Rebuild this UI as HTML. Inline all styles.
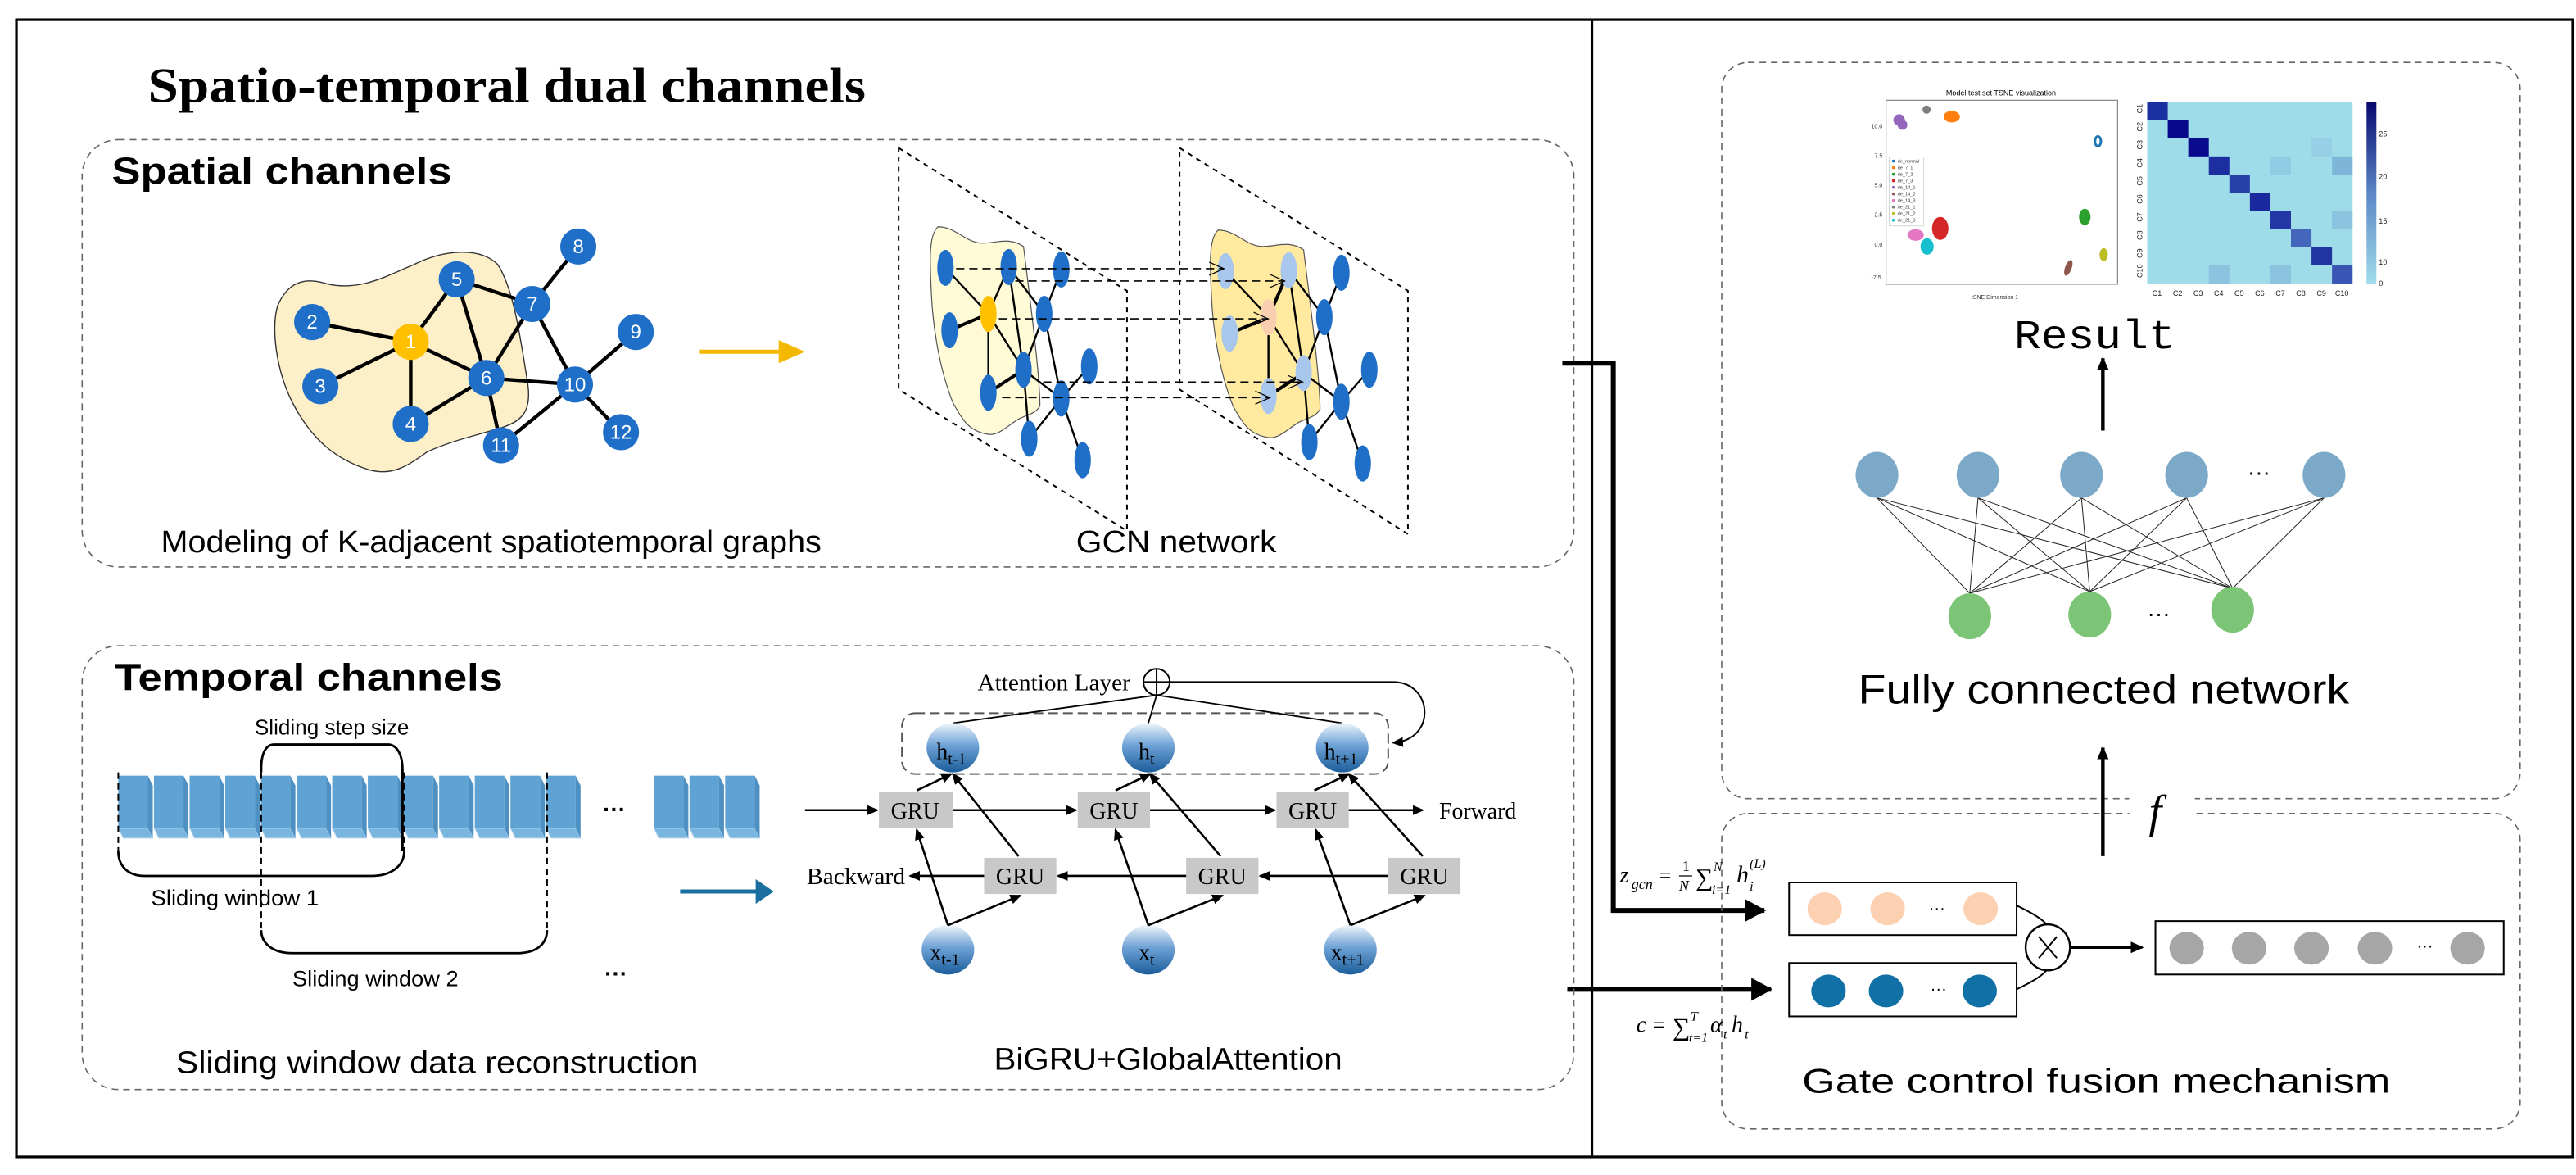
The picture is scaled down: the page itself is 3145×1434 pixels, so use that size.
<!DOCTYPE html>
<html><head><meta charset="utf-8"><style>
html,body{margin:0;padding:0;background:#fff;}
svg{display:block;}
text{font-family:"Liberation Sans",sans-serif;}
.serif{font-family:"Liberation Serif",serif;}
.mono{font-family:"Liberation Mono",monospace;}
</style></head><body>
<svg width="3145" height="1434" viewBox="0 0 1568 715" preserveAspectRatio="none" xmlns="http://www.w3.org/2000/svg">
<defs>
<linearGradient id="bg" x1="0" y1="0" x2="0" y2="1">
<stop offset="0" stop-color="#eef4fb"/><stop offset="0.45" stop-color="#6fa3d6"/><stop offset="1" stop-color="#1b5d9b"/>
</linearGradient>
<linearGradient id="cb" x1="0" y1="1" x2="0" y2="0">
<stop offset="0" stop-color="#a0dcea"/><stop offset="0.5" stop-color="#5a86c6"/><stop offset="1" stop-color="#08086e"/>
</linearGradient>
<marker id="ah" markerWidth="8" markerHeight="8" refX="7" refY="4" orient="auto" markerUnits="userSpaceOnUse"><path d="M0,0.5 L8,4 L0,7.5 Z" fill="#000"/></marker>
<marker id="ahs" markerWidth="7" markerHeight="7" refX="6" refY="3.5" orient="auto" markerUnits="userSpaceOnUse"><path d="M0,0.5 L7,3.5 L0,6.5 Z" fill="#000"/></marker>
<marker id="ahb" markerWidth="14" markerHeight="14" refX="12" refY="7" orient="auto" markerUnits="userSpaceOnUse"><path d="M0,0 L13,7 L0,14 Z" fill="#000"/></marker>
<marker id="aho" markerWidth="10" markerHeight="10" refX="9" refY="5" orient="auto" markerUnits="userSpaceOnUse"><path d="M0,1 L9,5 L0,9" fill="none" stroke="#000" stroke-width="0.6"/></marker>
</defs>
<rect width="1568" height="715" fill="#fff"/>
<rect x="10" y="12" width="1556" height="692" fill="none" stroke="#000" stroke-width="1.6"/>
<line x1="969" y1="12" x2="969" y2="704" stroke="#000" stroke-width="1.6"/>

<text x="90" y="62" class="serif" font-weight="bold" font-size="30" textLength="437" lengthAdjust="spacingAndGlyphs">Spatio-temporal dual channels</text>

<rect x="50" y="85" width="908" height="260" rx="22" fill="none" stroke="#666" stroke-width="0.8" stroke-dasharray="4,3"/>
<text x="68" y="112" font-weight="bold" font-size="23" textLength="207" lengthAdjust="spacingAndGlyphs">Spatial channels</text>

<path d="M169,186 C175,172 185,168 200,173 C220,177 235,168 252,161 C270,152 292,150 303,161 C312,175 316,200 321,232 C324,250 318,256 306,260 C290,265 275,268 260,275 C250,282 240,290 225,286 C205,280 190,268 178,245 C168,225 165,200 169,186 Z" fill="#fdefc8" stroke="#333" stroke-width="0.7"/>
<g stroke="#000" stroke-width="2.2">
<line x1="250" y1="208" x2="190" y2="196"/><line x1="250" y1="208" x2="195" y2="235"/>
<line x1="250" y1="208" x2="250" y2="258"/><line x1="250" y1="208" x2="278" y2="170"/>
<line x1="250" y1="208" x2="296" y2="230"/><line x1="278" y1="170" x2="296" y2="230"/>
<line x1="278" y1="170" x2="324" y2="185"/><line x1="324" y1="185" x2="296" y2="230"/>
<line x1="324" y1="185" x2="352" y2="150"/><line x1="324" y1="185" x2="350" y2="234"/>
<line x1="250" y1="258" x2="296" y2="230"/><line x1="296" y1="230" x2="350" y2="234"/>
<line x1="296" y1="230" x2="305" y2="271"/><line x1="350" y1="234" x2="387" y2="202"/>
<line x1="350" y1="234" x2="378" y2="263"/><line x1="350" y1="234" x2="305" y2="271"/>
</g>
<g fill="#1f6fc8">
<circle cx="190" cy="196" r="11"/><circle cx="195" cy="235" r="11"/><circle cx="250" cy="258" r="11"/>
<circle cx="278" cy="170" r="11"/><circle cx="296" cy="230" r="11"/><circle cx="324" cy="185" r="11"/>
<circle cx="352" cy="150" r="11"/><circle cx="387" cy="202" r="11"/><circle cx="350" cy="234" r="11"/>
<circle cx="305" cy="271" r="11"/><circle cx="378" cy="263" r="11"/>
</g>
<circle cx="250" cy="208" r="11" fill="#ffc000"/>
<g fill="#fff" font-size="12" text-anchor="middle">
<text x="250" y="212">1</text><text x="190" y="200">2</text><text x="195" y="239">3</text><text x="250" y="262">4</text>
<text x="278" y="174">5</text><text x="296" y="234">6</text><text x="324" y="189">7</text><text x="352" y="154">8</text>
<text x="387" y="206">9</text><text x="350" y="238">10</text><text x="305" y="275">11</text><text x="378" y="267">12</text>
</g>
<line x1="426" y1="214" x2="476" y2="214" stroke="#f5b800" stroke-width="2.5"/>
<path d="M474,207 L490,214 L474,221 Z" fill="#f5b800"/>
<text x="98" y="336" font-size="19" textLength="402" lengthAdjust="spacingAndGlyphs">Modeling of K-adjacent spatiotemporal graphs</text>

<!-- GCN planes -->
<g fill="none" stroke="#000" stroke-width="1" stroke-dasharray="3,3">
<path d="M547,90 L686,177 L686,323 L547,237 Z"/>
<path d="M718,90 L857,177 L857,325 L718,237 Z"/>
</g>
<!-- graph 1 -->
<path d="M571,138 C582,138 588,148 598,148 C607,148 614,144 623,150 C628,190 633,230 633,247 C630,252 626,252 620,255 C612,260 607,266 600,264 C590,262 586,256 580,245 C572,225 568,200 567,180 C566,160 565,143 571,138 Z" fill="#fffbd6" stroke="#555" stroke-width="0.6"/>
<g stroke="#000" stroke-width="1.2">
<line x1="575.5" y1="163" x2="601.6" y2="191"/><line x1="578" y1="201" x2="601.6" y2="191" stroke-width="2"/>
<line x1="601.6" y1="191" x2="601.6" y2="239"/><line x1="601.6" y1="191" x2="614" y2="162.5"/>
<line x1="601.6" y1="191" x2="623" y2="225"/><line x1="614" y1="162.5" x2="623" y2="225"/>
<line x1="614" y1="162.5" x2="635.6" y2="191"/><line x1="635.6" y1="191" x2="623" y2="225"/>
<line x1="635.6" y1="191" x2="646" y2="164"/><line x1="635.6" y1="191" x2="646" y2="242.5"/>
<line x1="601.6" y1="239" x2="623" y2="225" stroke-width="2"/><line x1="623" y1="225" x2="646" y2="242.5"/>
<line x1="623" y1="225" x2="626.5" y2="267"/><line x1="646" y1="242.5" x2="663" y2="223"/>
<line x1="646" y1="242.5" x2="659" y2="280"/><line x1="646" y1="242.5" x2="626.5" y2="267"/>
</g>
<g fill="#1f6fc8">
<ellipse cx="575.5" cy="163" rx="5" ry="11"/><ellipse cx="578" cy="201" rx="5" ry="11"/><ellipse cx="601.6" cy="239" rx="5" ry="11"/>
<ellipse cx="614" cy="162.5" rx="5" ry="11"/><ellipse cx="623" cy="225" rx="5" ry="11"/><ellipse cx="635.6" cy="191" rx="5" ry="11"/>
<ellipse cx="646" cy="164" rx="5" ry="11"/><ellipse cx="663" cy="223" rx="5" ry="11"/><ellipse cx="646" cy="242.5" rx="5" ry="11"/>
<ellipse cx="626.5" cy="267" rx="5" ry="11"/><ellipse cx="659" cy="280" rx="5" ry="11"/>
</g>
<ellipse cx="601.6" cy="191" rx="5" ry="11" fill="#ffc000"/>
<!-- graph 2 -->
<g transform="translate(170.5,2)">
<path d="M571,138 C582,138 588,148 598,148 C607,148 614,144 623,150 C628,190 633,230 633,247 C630,252 626,252 620,255 C612,260 607,266 600,264 C590,262 586,256 580,245 C572,225 568,200 567,180 C566,160 565,143 571,138 Z" fill="#ffeaa0" stroke="#555" stroke-width="0.6"/>
<g stroke="#000" stroke-width="1.2">
<line x1="575.5" y1="163" x2="601.6" y2="191"/><line x1="578" y1="201" x2="601.6" y2="191" stroke-width="2"/>
<line x1="601.6" y1="191" x2="601.6" y2="239"/><line x1="601.6" y1="191" x2="614" y2="162.5" stroke-width="2"/>
<line x1="601.6" y1="191" x2="623" y2="225"/><line x1="614" y1="162.5" x2="623" y2="225"/>
<line x1="614" y1="162.5" x2="635.6" y2="191"/><line x1="635.6" y1="191" x2="623" y2="225"/>
<line x1="635.6" y1="191" x2="646" y2="164"/><line x1="635.6" y1="191" x2="646" y2="242.5"/>
<line x1="601.6" y1="239" x2="623" y2="225" stroke-width="2"/><line x1="623" y1="225" x2="646" y2="242.5"/>
<line x1="623" y1="225" x2="626.5" y2="267"/><line x1="646" y1="242.5" x2="663" y2="223"/>
<line x1="646" y1="242.5" x2="659" y2="280"/><line x1="646" y1="242.5" x2="626.5" y2="267"/>
</g>
<g fill="#a9c6ec">
<ellipse cx="575.5" cy="163" rx="5" ry="11"/><ellipse cx="578" cy="201" rx="5" ry="11"/><ellipse cx="601.6" cy="239" rx="5" ry="11"/>
<ellipse cx="614" cy="162.5" rx="5" ry="11"/><ellipse cx="623" cy="225" rx="5" ry="11"/>
</g>
<g fill="#1f6fc8">
<ellipse cx="635.6" cy="191" rx="5" ry="11"/><ellipse cx="646" cy="164" rx="5" ry="11"/><ellipse cx="663" cy="223" rx="5" ry="11"/>
<ellipse cx="646" cy="242.5" rx="5" ry="11"/><ellipse cx="626.5" cy="267" rx="5" ry="11"/><ellipse cx="659" cy="280" rx="5" ry="11"/>
</g>
<ellipse cx="601.6" cy="191" rx="5" ry="11" fill="#f9cfb0"/>
</g>
<g stroke="#000" stroke-width="0.8" stroke-dasharray="5,3" fill="none" marker-end="url(#aho)">
<line x1="582" y1="163.5" x2="745" y2="163.5"/><line x1="618" y1="171" x2="782" y2="171"/>
<line x1="608" y1="194" x2="772" y2="194"/><line x1="635" y1="232.5" x2="793" y2="232.5"/>
<line x1="610" y1="242" x2="773" y2="242"/>
</g>
<text x="655" y="336" font-size="19" textLength="122" lengthAdjust="spacingAndGlyphs">GCN network</text>

<polyline points="951,221 982,221 982,554 1074,554" fill="none" stroke="#000" stroke-width="3" marker-end="url(#ahb)"/>
<line x1="954" y1="602" x2="1078" y2="602" stroke="#000" stroke-width="3" marker-end="url(#ahb)"/>

<!-- Temporal box -->
<rect x="50" y="393" width="908" height="270" rx="22" fill="none" stroke="#666" stroke-width="0.8" stroke-dasharray="4,3"/>
<text x="70" y="420" font-weight="bold" font-size="23" textLength="236" lengthAdjust="spacingAndGlyphs">Temporal channels</text>
<text x="155" y="447" font-size="13" textLength="94" lengthAdjust="spacingAndGlyphs">Sliding step size</text>
<g fill="#5ea3d3">
<rect x="72" y="472" width="18" height="32"/><rect x="93.7" y="472" width="18" height="32"/><rect x="115.4" y="472" width="18" height="32"/><rect x="137.1" y="472" width="18" height="32"/><rect x="158.8" y="472" width="18" height="32"/><rect x="180.5" y="472" width="18" height="32"/><rect x="202.2" y="472" width="18" height="32"/><rect x="223.9" y="472" width="18" height="32"/><rect x="245.6" y="472" width="18" height="32"/><rect x="267.3" y="472" width="18" height="32"/><rect x="289" y="472" width="18" height="32"/><rect x="310.7" y="472" width="18" height="32"/><rect x="332.4" y="472" width="18" height="32"/>
<rect x="398" y="472" width="18" height="32"/><rect x="419.7" y="472" width="18" height="32"/><rect x="441.4" y="472" width="18" height="32"/>
</g>
<g fill="#78b6e0" stroke="#b8d6ee" stroke-width="0.5">
<path d="M72,504 h18 l3,6 h-18 Z"/><path d="M93.7,504 h18 l3,6 h-18 Z"/><path d="M115.4,504 h18 l3,6 h-18 Z"/><path d="M137.1,504 h18 l3,6 h-18 Z"/><path d="M158.8,504 h18 l3,6 h-18 Z"/><path d="M180.5,504 h18 l3,6 h-18 Z"/><path d="M202.2,504 h18 l3,6 h-18 Z"/><path d="M223.9,504 h18 l3,6 h-18 Z"/><path d="M245.6,504 h18 l3,6 h-18 Z"/><path d="M267.3,504 h18 l3,6 h-18 Z"/><path d="M289,504 h18 l3,6 h-18 Z"/><path d="M310.7,504 h18 l3,6 h-18 Z"/><path d="M332.4,504 h18 l3,6 h-18 Z"/>
<path d="M398,504 h18 l3,6 h-18 Z"/><path d="M419.7,504 h18 l3,6 h-18 Z"/><path d="M441.4,504 h18 l3,6 h-18 Z"/>
</g>
<g fill="#4f90c2">
<path d="M90,472 l3,6 v32 l-3,-6 Z"/><path d="M111.7,472 l3,6 v32 l-3,-6 Z"/><path d="M133.4,472 l3,6 v32 l-3,-6 Z"/><path d="M155.1,472 l3,6 v32 l-3,-6 Z"/><path d="M176.8,472 l3,6 v32 l-3,-6 Z"/><path d="M198.5,472 l3,6 v32 l-3,-6 Z"/><path d="M220.2,472 l3,6 v32 l-3,-6 Z"/><path d="M241.9,472 l3,6 v32 l-3,-6 Z"/><path d="M263.6,472 l3,6 v32 l-3,-6 Z"/><path d="M285.3,472 l3,6 v32 l-3,-6 Z"/><path d="M307,472 l3,6 v32 l-3,-6 Z"/><path d="M328.7,472 l3,6 v32 l-3,-6 Z"/><path d="M350.4,472 l3,6 v32 l-3,-6 Z"/>
<path d="M416,472 l3,6 v32 l-3,-6 Z"/><path d="M437.7,472 l3,6 v32 l-3,-6 Z"/><path d="M459.4,472 l3,6 v32 l-3,-6 Z"/>
</g>
<text x="374" y="497" font-size="14" text-anchor="middle" font-weight="bold">···</text>
<g fill="none" stroke="#000" stroke-width="1" stroke-dasharray="4,2.5">
<line x1="72" y1="470" x2="72" y2="518"/><line x1="159" y1="470" x2="159" y2="566"/>
<line x1="246" y1="470" x2="246" y2="518"/><line x1="333" y1="470" x2="333" y2="566"/>
</g>
<g fill="none" stroke="#000" stroke-width="1.4">
<path d="M159,470 L159,468 C159,458 162,453 167,453 L236,453 C242,453 245,460 245,468 L245,518"/>
<path d="M72,518 C72,527 78,533 88,533 L226,533 C238,533 246,527 246,518"/>
<path d="M159,566 C159,574 166,580 178,580 L315,580 C327,580 333,574 333,566"/>
</g>
<text x="92" y="551" font-size="13.5" textLength="102" lengthAdjust="spacingAndGlyphs">Sliding window 1</text>
<text x="178" y="600" font-size="13.5" textLength="101" lengthAdjust="spacingAndGlyphs">Sliding window 2</text>
<text x="375" y="597" font-size="14" text-anchor="middle" font-weight="bold">···</text>
<line x1="414" y1="542.5" x2="462" y2="542.5" stroke="#1a6fa0" stroke-width="2.5"/>
<path d="M460,535 L471,542.5 L460,550 Z" fill="#1a6fa0"/>
<text x="107" y="653" font-size="19" textLength="318" lengthAdjust="spacingAndGlyphs">Sliding window data reconstruction</text>

<!-- BiGRU -->
<text x="595" y="420" class="serif" font-size="14" textLength="93" lengthAdjust="spacingAndGlyphs">Attention Layer</text>
<circle cx="704" cy="415" r="8" fill="#fff" stroke="#000" stroke-width="1"/>
<line x1="696" y1="415" x2="712" y2="415" stroke="#000" stroke-width="1"/><line x1="704" y1="407" x2="704" y2="423" stroke="#000" stroke-width="1"/>
<rect x="549" y="434" width="296" height="37" rx="8" fill="none" stroke="#555" stroke-width="1" stroke-dasharray="6,3"/>
<g stroke="#000" stroke-width="0.9">
<line x1="704" y1="423" x2="580" y2="440"/><line x1="704" y1="423" x2="699" y2="440"/><line x1="704" y1="423" x2="817" y2="440"/>
</g>
<path d="M712,415 L848,415 C872,415 875,450 848,452" fill="none" stroke="#000" stroke-width="1" marker-end="url(#ahs)"/>
<g fill="url(#bg)">
<ellipse cx="580" cy="455" rx="16" ry="15"/><ellipse cx="699" cy="455" rx="16" ry="15"/><ellipse cx="817" cy="455" rx="16" ry="15"/>
<ellipse cx="577" cy="578" rx="16" ry="15"/><ellipse cx="699" cy="578" rx="16" ry="15"/><ellipse cx="822" cy="578" rx="16" ry="15"/>
</g>
<g font-size="14">
<text x="570" y="462" class="serif">h<tspan font-size="10" dy="3">t-1</tspan></text>
<text x="693" y="462" class="serif">h<tspan font-size="10" dy="3">t</tspan></text>
<text x="806" y="462" class="serif">h<tspan font-size="10" dy="3">t+1</tspan></text>
<text x="566" y="584" class="serif">x<tspan font-size="10" dy="3">t-1</tspan></text>
<text x="693" y="584" class="serif">x<tspan font-size="10" dy="3">t</tspan></text>
<text x="810" y="584" class="serif">x<tspan font-size="10" dy="3">t+1</tspan></text>
</g>
<g fill="#c8c8c8">
<rect x="535" y="482" width="45" height="22"/><rect x="656" y="482" width="44" height="22"/><rect x="777" y="482" width="44" height="22"/>
<rect x="599" y="522" width="44" height="22"/><rect x="722" y="522" width="44" height="22"/><rect x="845" y="522" width="44" height="22"/>
</g>
<g font-size="14" text-anchor="middle">
<text x="557" y="498" class="serif">GRU</text><text x="678" y="498" class="serif">GRU</text><text x="799" y="498" class="serif">GRU</text>
<text x="621" y="538" class="serif">GRU</text><text x="744" y="538" class="serif">GRU</text><text x="867" y="538" class="serif">GRU</text>
</g>
<g stroke="#000" stroke-width="1.3" fill="none" marker-end="url(#ahs)">
<line x1="490" y1="493" x2="534" y2="493"/><line x1="580" y1="493" x2="655" y2="493"/><line x1="700" y1="493" x2="776" y2="493"/><line x1="821" y1="493" x2="866" y2="493"/>
<line x1="845" y1="533" x2="767" y2="533"/><line x1="722" y1="533" x2="644" y2="533"/><line x1="599" y1="533" x2="554" y2="533"/>
<line x1="577" y1="563" x2="558" y2="505"/><line x1="577" y1="563" x2="621" y2="545"/>
<line x1="699" y1="563" x2="679" y2="505"/><line x1="699" y1="563" x2="744" y2="545"/>
<line x1="822" y1="563" x2="801" y2="505"/><line x1="822" y1="563" x2="867" y2="545"/>
<line x1="558" y1="481" x2="579" y2="471"/><line x1="620" y1="521" x2="580" y2="471"/>
<line x1="679" y1="481" x2="700" y2="471"/><line x1="743" y1="521" x2="700" y2="471"/>
<line x1="800" y1="481" x2="821" y2="471"/><line x1="866" y1="521" x2="821" y2="471"/>
</g>
<text x="876" y="498" class="serif" font-size="14" textLength="47" lengthAdjust="spacingAndGlyphs">Forward</text>
<text x="491" y="538" class="serif" font-size="14" textLength="60" lengthAdjust="spacingAndGlyphs">Backward</text>
<text x="605" y="651" font-size="19" textLength="212" lengthAdjust="spacingAndGlyphs">BiGRU+GlobalAttention</text>

<!-- Right upper box -->
<rect x="1048" y="38" width="486" height="448" rx="16" fill="none" stroke="#666" stroke-width="0.8" stroke-dasharray="4,3"/>
<text x="1218" y="58" font-size="4.5" text-anchor="middle">Model test set TSNE visualization</text>
<rect x="1148" y="61" width="141" height="112" fill="#fff" stroke="#888" stroke-width="0.6"/>
<g font-size="3.5" fill="#333">
<text x="1139" y="78">10.0</text><text x="1141" y="96">7.5</text><text x="1141" y="114">5.0</text><text x="1141" y="132">2.5</text><text x="1141" y="150">0.0</text><text x="1139" y="170">-7.5</text>
<text x="1200" y="182">tSNE Dimension 1</text>
</g>
<g>
<circle cx="1156" cy="73" r="3.5" fill="#9467bd"/><circle cx="1158" cy="76" r="3" fill="#9467bd"/>
<circle cx="1172.7" cy="66.7" r="2.5" fill="#7f7f7f"/>
<ellipse cx="1188" cy="71" rx="5" ry="3.5" fill="#ff7f0e"/>
<ellipse cx="1277" cy="86" rx="1.8" ry="3" fill="none" stroke="#1f77b4" stroke-width="1.5"/>
<ellipse cx="1269" cy="132" rx="3.5" ry="5" fill="#2ca02c"/>
<ellipse cx="1280.5" cy="155" rx="2.5" ry="4" fill="#bcbd22"/>
<ellipse cx="1259" cy="163" rx="2" ry="5" fill="#8c564b" transform="rotate(20 1259 163)"/>
<ellipse cx="1181" cy="139" rx="5" ry="7" fill="#d62728"/>
<ellipse cx="1166" cy="143" rx="5" ry="3.5" fill="#e377c2"/>
<ellipse cx="1173" cy="150" rx="4" ry="5" fill="#17becf"/>
</g>
<rect x="1150" y="95.5" width="21" height="42" fill="#fff" stroke="#ccc" stroke-width="0.4"/>
<g font-size="2.8" fill="#333">
<circle cx="1152.5" cy="98" r="0.9" fill="#1f77b4"/><text x="1155" y="99">de_normal</text>
<circle cx="1152.5" cy="102" r="0.9" fill="#ff7f0e"/><text x="1155" y="103">de_7_1</text>
<circle cx="1152.5" cy="106" r="0.9" fill="#2ca02c"/><text x="1155" y="107">de_7_2</text>
<circle cx="1152.5" cy="110" r="0.9" fill="#d62728"/><text x="1155" y="111">de_7_3</text>
<circle cx="1152.5" cy="114" r="0.9" fill="#9467bd"/><text x="1155" y="115">de_14_1</text>
<circle cx="1152.5" cy="118" r="0.9" fill="#8c564b"/><text x="1155" y="119">de_14_2</text>
<circle cx="1152.5" cy="122" r="0.9" fill="#e377c2"/><text x="1155" y="123">de_14_3</text>
<circle cx="1152.5" cy="126" r="0.9" fill="#7f7f7f"/><text x="1155" y="127">de_21_1</text>
<circle cx="1152.5" cy="130" r="0.9" fill="#bcbd22"/><text x="1155" y="131">de_21_2</text>
<circle cx="1152.5" cy="134" r="0.9" fill="#17becf"/><text x="1155" y="135">de_21_3</text>
</g>
<rect x="1307" y="62" width="125" height="110.5" fill="#9fdcea"/>
<g>
<rect x="1307" y="62" width="12.5" height="11.05" fill="#1a2fa0"/>
<rect x="1319.5" y="73.05" width="12.5" height="11.05" fill="#08088a"/>
<rect x="1332" y="84.1" width="12.5" height="11.05" fill="#0a0a8c"/>
<rect x="1344.5" y="95.15" width="12.5" height="11.05" fill="#1c2ea0"/>
<rect x="1357" y="106.2" width="12.5" height="11.05" fill="#2541a8"/>
<rect x="1369.5" y="117.25" width="12.5" height="11.05" fill="#1a2a9e"/>
<rect x="1382" y="128.3" width="12.5" height="11.05" fill="#2338a5"/>
<rect x="1394.5" y="139.35" width="12.5" height="11.05" fill="#4466bb"/>
<rect x="1407" y="150.4" width="12.5" height="11.05" fill="#2035a2"/>
<rect x="1419.5" y="161.45" width="12.5" height="11.05" fill="#3a56b5"/>
<rect x="1407" y="84.1" width="12.5" height="11.05" fill="#97d0e6"/>
<rect x="1382" y="95.15" width="12.5" height="11.05" fill="#92cbe4"/>
<rect x="1419.5" y="95.15" width="12.5" height="11.05" fill="#80b5da"/>
<rect x="1419.5" y="128.3" width="12.5" height="11.05" fill="#8cc3e0"/>
<rect x="1344.5" y="161.45" width="12.5" height="11.05" fill="#8cc3e0"/>
<rect x="1382" y="161.45" width="12.5" height="11.05" fill="#8cc3e0"/>
</g>
<rect x="1440.5" y="62" width="6" height="110.5" fill="url(#cb)"/>
<g font-size="4.5" fill="#222">
<text x="1448" y="83">25</text><text x="1448" y="109">20</text><text x="1448" y="136">15</text><text x="1448" y="161">10</text><text x="1448" y="174">0</text>
</g>
<g font-size="4.5" fill="#222" text-anchor="middle">
<text x="1313" y="180">C1</text><text x="1325.5" y="180">C2</text><text x="1338" y="180">C3</text><text x="1350.5" y="180">C4</text><text x="1363" y="180">C5</text><text x="1375.5" y="180">C6</text><text x="1388" y="180">C7</text><text x="1400.5" y="180">C8</text><text x="1413" y="180">C9</text><text x="1425.5" y="180">C10</text>
</g>
<g font-size="4.5" fill="#222">
<text x="1304" y="69" transform="rotate(-90 1304 69)">C1</text>
<text x="1304" y="80" transform="rotate(-90 1304 80)">C2</text>
<text x="1304" y="91" transform="rotate(-90 1304 91)">C3</text>
<text x="1304" y="102" transform="rotate(-90 1304 102)">C4</text>
<text x="1304" y="113" transform="rotate(-90 1304 113)">C5</text>
<text x="1304" y="124" transform="rotate(-90 1304 124)">C6</text>
<text x="1304" y="135" transform="rotate(-90 1304 135)">C7</text>
<text x="1304" y="146" transform="rotate(-90 1304 146)">C8</text>
<text x="1304" y="157" transform="rotate(-90 1304 157)">C9</text>
<text x="1304" y="169" transform="rotate(-90 1304 169)">C10</text>
</g>
<text x="1226" y="212" class="mono" font-size="25" textLength="98" lengthAdjust="spacingAndGlyphs">Result</text>
<line x1="1280" y1="262" x2="1280" y2="218" stroke="#000" stroke-width="2.2" marker-end="url(#ah)"/>

<!-- FC -->
<g stroke="#222" stroke-width="0.5">
<line x1="1142.5" y1="303" x2="1199" y2="361"/><line x1="1142.5" y1="303" x2="1272" y2="360"/><line x1="1142.5" y1="303" x2="1359" y2="358"/>
<line x1="1204" y1="303" x2="1199" y2="361"/><line x1="1204" y1="303" x2="1272" y2="360"/><line x1="1204" y1="303" x2="1359" y2="358"/>
<line x1="1267" y1="303" x2="1199" y2="361"/><line x1="1267" y1="303" x2="1272" y2="360"/><line x1="1267" y1="303" x2="1359" y2="358"/>
<line x1="1331" y1="303" x2="1199" y2="361"/><line x1="1331" y1="303" x2="1272" y2="360"/><line x1="1331" y1="303" x2="1359" y2="358"/>
<line x1="1414.6" y1="303" x2="1199" y2="361"/><line x1="1414.6" y1="303" x2="1272" y2="360"/><line x1="1414.6" y1="303" x2="1359" y2="358"/>
</g>
<g fill="#7ba9c7">
<ellipse cx="1142.5" cy="289" rx="13" ry="14"/><ellipse cx="1204" cy="289" rx="13" ry="14"/><ellipse cx="1267" cy="289" rx="13" ry="14"/><ellipse cx="1331" cy="289" rx="13" ry="14"/><ellipse cx="1414.6" cy="289" rx="13" ry="14"/>
</g>
<g fill="#7cc576">
<ellipse cx="1199" cy="375" rx="13" ry="14"/><ellipse cx="1272" cy="374" rx="13" ry="14"/><ellipse cx="1359" cy="371" rx="13" ry="14"/>
</g>
<text x="1375" y="292" font-size="14" text-anchor="middle">···</text>
<text x="1314" y="378" font-size="14" text-anchor="middle">···</text>
<text x="1131" y="428" font-size="25" textLength="299" lengthAdjust="spacingAndGlyphs">Fully connected network</text>

<!-- Gate box -->
<rect x="1048" y="495" width="486" height="192" rx="16" fill="none" stroke="#666" stroke-width="0.8" stroke-dasharray="4,3"/>
<rect x="1296" y="480" width="40" height="22" fill="#fff"/>
<line x1="1280" y1="521" x2="1280" y2="455" stroke="#000" stroke-width="2.2" marker-end="url(#ah)"/>
<text x="1308" y="503" class="serif" font-style="italic" font-size="28">f</text>

<g class="serif" font-style="italic">
<text x="986" y="537" class="serif" font-size="14">z</text>
<text x="993" y="541" class="serif" font-size="9">gcn</text>
<text x="1010" y="537" class="serif" font-size="13" font-style="normal">=</text>
<text x="1024" y="530" class="serif" font-size="9" font-style="normal">1</text>
<line x1="1022" y1="533" x2="1030" y2="533" stroke="#000" stroke-width="0.6"/>
<text x="1022" y="542" class="serif" font-size="9">N</text>
<text x="1032" y="539" class="serif" font-size="15" font-style="normal">∑</text>
<text x="1043" y="530" class="serif" font-size="8">N</text>
<text x="1042" y="544" class="serif" font-size="8">i=1</text>
<text x="1057" y="537" class="serif" font-size="15">h</text>
<text x="1065" y="528" class="serif" font-size="8">(L)</text>
<text x="1065" y="542" class="serif" font-size="8">i</text>
</g>
<g>
<text x="996" y="628" class="serif" font-style="italic" font-size="14">c</text>
<text x="1006" y="628" class="serif" font-size="13">=</text>
<text x="1018" y="630" class="serif" font-size="15">∑</text>
<text x="1029" y="621" class="serif" font-style="italic" font-size="8">T</text>
<text x="1028" y="634" class="serif" font-style="italic" font-size="8">t=1</text>
<text x="1041" y="628" class="serif" font-style="italic" font-size="14">α</text>
<text x="1049" y="632" class="serif" font-style="italic" font-size="8">t</text>
<text x="1054" y="628" class="serif" font-style="italic" font-size="14">h</text>
<text x="1062" y="632" class="serif" font-style="italic" font-size="8">t</text>
</g>

<rect x="1089" y="537" width="138.5" height="32" fill="#fff" stroke="#000" stroke-width="1"/>
<rect x="1089" y="586" width="138.5" height="32.5" fill="#fff" stroke="#000" stroke-width="1"/>
<g fill="#fcd0b0"><ellipse cx="1110.7" cy="553" rx="10.5" ry="10"/><ellipse cx="1149" cy="553" rx="10.5" ry="10"/><ellipse cx="1205.6" cy="553" rx="10.5" ry="10"/></g>
<g fill="#1170a5"><ellipse cx="1113" cy="603" rx="10.5" ry="10"/><ellipse cx="1148" cy="603" rx="10.5" ry="10"/><ellipse cx="1205" cy="603" rx="10.5" ry="10"/></g>
<text x="1179" y="556" font-size="10" text-anchor="middle">···</text>
<text x="1180" y="605" font-size="10" text-anchor="middle">···</text>
<path d="M1227.5,551 C1238,556 1244,560 1246,563" fill="none" stroke="#000" stroke-width="1"/>
<path d="M1227.5,602 C1238,597 1244,593 1246,590" fill="none" stroke="#000" stroke-width="1"/>
<ellipse cx="1246.5" cy="576.5" rx="13.5" ry="14" fill="#fff" stroke="#000" stroke-width="1.2"/>
<path d="M1241,570 L1252,583 M1252,570 L1241,583" stroke="#000" stroke-width="1"/>
<line x1="1260" y1="576.5" x2="1304" y2="576.5" stroke="#000" stroke-width="1.8" marker-end="url(#ah)"/>
<rect x="1312" y="560.5" width="212" height="32.5" fill="#fff" stroke="#000" stroke-width="1"/>
<g fill="#a6a6a6"><ellipse cx="1331" cy="577" rx="10.5" ry="10"/><ellipse cx="1369" cy="577" rx="10.5" ry="10"/><ellipse cx="1407" cy="577" rx="10.5" ry="10"/><ellipse cx="1445.6" cy="577" rx="10.5" ry="10"/><ellipse cx="1502" cy="577" rx="10.5" ry="10"/></g>
<text x="1476" y="579" font-size="10" text-anchor="middle">···</text>
<text x="1097" y="665" font-size="21" textLength="358" lengthAdjust="spacingAndGlyphs">Gate control fusion mechanism</text>
</svg>
</body></html>
